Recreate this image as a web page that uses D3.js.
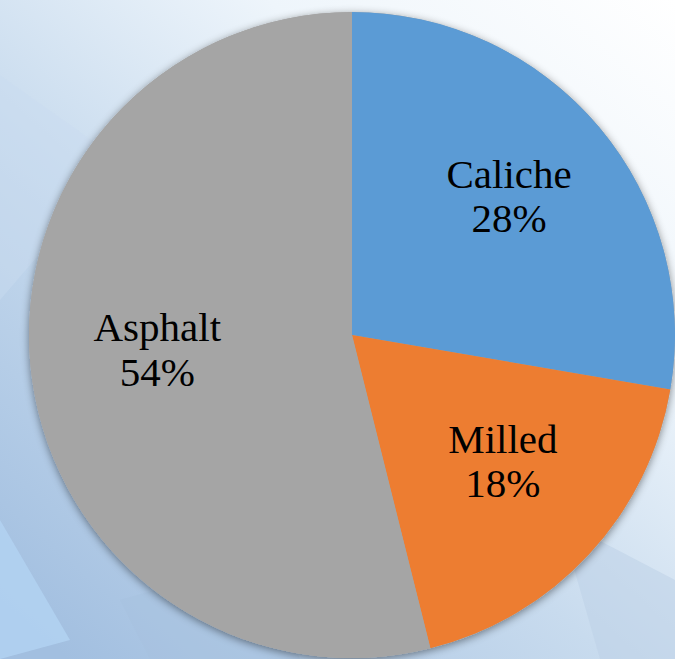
<!DOCTYPE html>
<html>
<head>
<meta charset="utf-8">
<script src="https://cdn.jsdelivr.net/npm/d3@7"></script>
<style>
  html, body { margin: 0; padding: 0; background: #ffffff; }
  svg { display: block; }
</style>
</head>
<body>
<div id="chart"></div>
<script>
// ---- data ----
const categories = ["Caliche", "Milled", "Asphalt"];
const values = [27.7, 18.4, 53.9];
const percentLabels = ["28%", "18%", "54%"];
const colors = ["#5B9BD5", "#ED7D31", "#A5A5A5"];

const W = 675, H = 659;
const cx = 352, cy = 335, R = 323;

const svg = d3.select("#chart").append("svg")
  .attr("width", W).attr("height", H);

const defs = svg.append("defs");
const bg = defs.append("linearGradient").attr("id", "bg")
  .attr("x1", "100%").attr("y1", "0%").attr("x2", "10%").attr("y2", "100%");
bg.append("stop").attr("offset", "0%").attr("stop-color", "#ffffff");
bg.append("stop").attr("offset", "30%").attr("stop-color", "#eef5fb");
bg.append("stop").attr("offset", "60%").attr("stop-color", "#c8dbee");
bg.append("stop").attr("offset", "100%").attr("stop-color", "#a2bfe0");

const sh = defs.append("filter").attr("id", "shadow")
  .attr("x", "-20%").attr("y", "-20%").attr("width", "140%").attr("height", "140%");
sh.append("feDropShadow").attr("dx", 0).attr("dy", 2).attr("stdDeviation", 4)
  .attr("flood-color", "#000").attr("flood-opacity", 0.45);

svg.append("rect").attr("width", W).attr("height", H).attr("fill", "url(#bg)");

// faint decorative background facets
const facets = [
  { pts: [[0,75],[120,160],[0,300]], fill: "#c9dcef", op: 0.45 },
  { pts: [[0,520],[70,640],[0,659]], fill: "#b3d3f3", op: 0.8 },
  { pts: [[120,600],[260,560],[300,659],[150,659]], fill: "#a6c0de", op: 0.45 },
  { pts: [[560,520],[675,580],[675,659],[600,659]], fill: "#bcd0e6", op: 0.5 }
];
svg.selectAll("polygon.facet").data(facets).enter().append("polygon")
  .attr("class", "facet")
  .attr("points", d => d.pts.map(p => p.join(",")).join(" "))
  .attr("fill", d => d.fill).attr("opacity", d => d.op);

const pie = d3.pie().sort(null).value(d => d)(values);
const arc = d3.arc().innerRadius(0).outerRadius(R);
const labelArc = d3.arc().innerRadius(R * 0.62).outerRadius(R * 0.62);

const g = svg.append("g").attr("transform", `translate(${cx},${cy})`);

g.append("circle").attr("r", R).attr("fill", "#A5A5A5").attr("filter", "url(#shadow)");

g.selectAll("path.slice").data(pie).enter().append("path")
  .attr("class", "slice")
  .attr("d", arc)
  .attr("fill", (d, i) => colors[i]);

const labels = g.selectAll("text.lbl").data(pie).enter().append("text")
  .attr("class", "lbl")
  .attr("text-anchor", "middle")
  .attr("font-family", "'Liberation Serif', 'DejaVu Serif', serif")
  .attr("font-size", 41)
  .attr("fill", "#000")
  .attr("transform", d => {
    const [x, y] = labelArc.centroid(d);
    return `translate(${x + 4},${y - 14})`;
  });
labels.append("tspan").attr("x", 0).attr("dy", "-0.1em").text((d, i) => categories[i]);
labels.append("tspan").attr("x", 0).attr("dy", "1.08em").text((d, i) => percentLabels[i]);
</script>
</body>
</html>
